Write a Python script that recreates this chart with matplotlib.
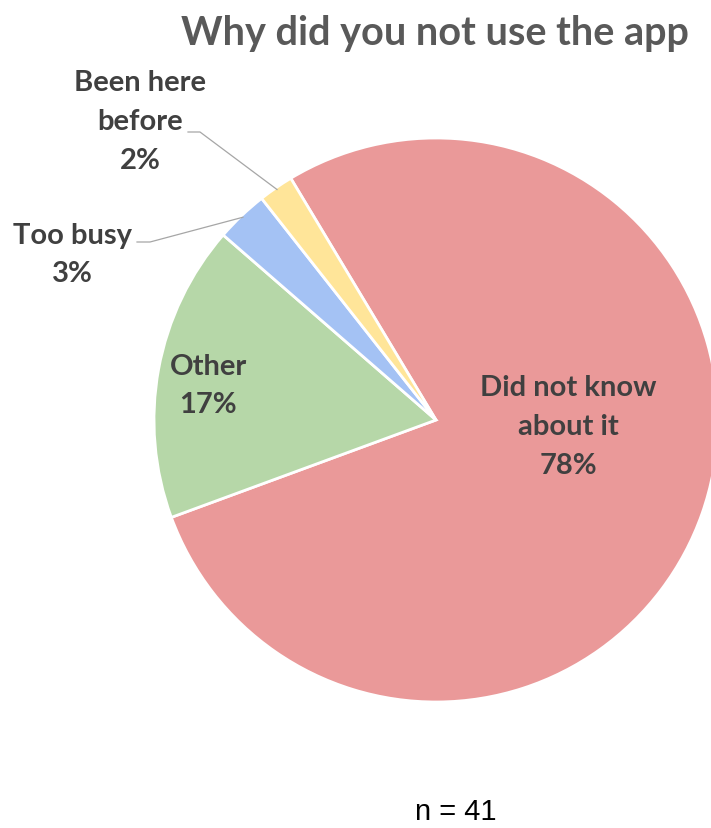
import numpy as np
import matplotlib
matplotlib.use("Agg")
import matplotlib.pyplot as plt

# Survey answers: why respondents did not use the app
categories = ["Did not know\nabout it", "Other", "Too busy", "Been here\nbefore"]
shares = [78, 17, 3, 2]          # percent of respondents
colors = ["#EA9999", "#B6D7A8", "#A4C2F4", "#FFE599"]
title = "Why did you not use the app"
sample_note = "n = 41"

W, H = 711, 829
fig = plt.figure(figsize=(W / 100, H / 100), dpi=100)
ax = fig.add_axes([0, 0, 1, 1])


def py(y):
    """Convert a top-down pixel row to the axes' bottom-up coordinate."""
    return H - y


cx, cy, r = 436, 421, 282
wedges, _ = ax.pie(
    shares,
    colors=colors,
    startangle=121,
    counterclock=False,
    center=(cx, py(cy)),
    radius=r,
    wedgeprops=dict(edgecolor="white", linewidth=2.0),
    frame=True,
)
ax.set_xlim(0, W)
ax.set_ylim(0, H)
ax.set_aspect("equal")
ax.axis("off")

label_font = dict(family="Lato", fontweight="bold", color="#404040",
                  fontsize=21, linespacing=1.6, ha="center", va="center")

# Labels inside the two large slices
ax.text(568, py(427), f"{categories[0]}\n{shares[0]}%", **label_font)
ax.text(208, py(386), f"{categories[1]}\n{shares[1]}%", **label_font)

# Labels outside the two thin slices, joined by leader lines
outside = [(2, 72, 255, 137, 150, 243), (3, 140, 122, 188, 200, 133)]
for idx, tx, ty, lx0, lx1, ly in outside:
    ax.text(tx, py(ty), f"{categories[idx]}\n{shares[idx]}%", **label_font)
    w = wedges[idx]
    mid = np.deg2rad((w.theta1 + w.theta2) / 2)
    ex = cx + (r - 2) * np.cos(mid)
    ey = py(cy) + (r - 2) * np.sin(mid)
    ax.plot([lx0, lx1, ex], [py(ly), py(ly), ey], color="#A6A6A6", lw=0.9)

ax.text(435, py(45), title, family="Lato", fontweight="bold",
        color="#595959", fontsize=28.5, ha="center", va="baseline")

ax.text(456, py(820), sample_note, family="Liberation Sans",
        color="black", fontsize=21, ha="center", va="baseline")

fig.savefig("out.png", dpi=100)
